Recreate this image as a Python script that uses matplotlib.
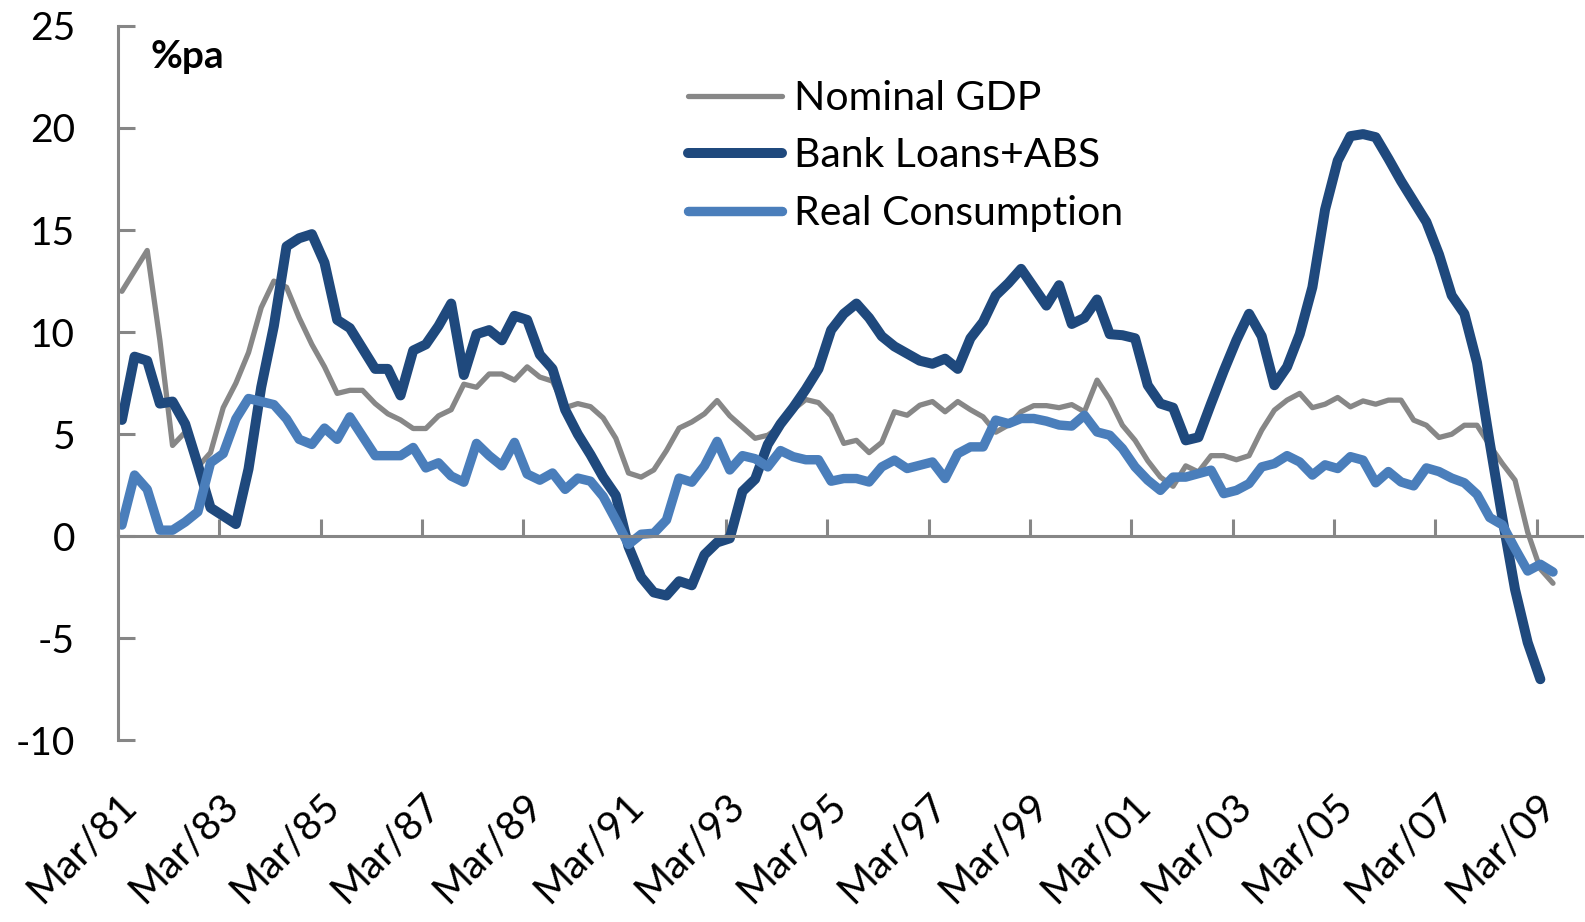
import numpy as np
import matplotlib.pyplot as plt

# Quarterly growth rates, %pa, from Mar/81 onwards
nominal_gdp = [
    12.0, 13.0, 14.0, 9.6, 4.45, 5.1, 3.4, 4.1, 6.3, 7.5,
    9.0, 11.2, 12.5, 12.2, 10.7, 9.4, 8.3, 7.0, 7.15, 7.15,
    6.5, 6.0, 5.7, 5.28, 5.28, 5.9, 6.2, 7.45, 7.3, 7.95,
    7.95, 7.65, 8.3, 7.8, 7.6, 6.3, 6.5, 6.35, 5.8, 4.8,
    3.1, 2.9, 3.25, 4.2, 5.3, 5.6, 6.0, 6.65, 5.9, 5.35,
    4.8, 4.95, 5.4, 6.2, 6.7, 6.55, 5.9, 4.55, 4.7, 4.1,
    4.6, 6.1, 5.93, 6.42, 6.6, 6.1, 6.6, 6.2, 5.85, 5.1,
    5.45, 6.1, 6.4, 6.4, 6.3, 6.45, 6.1, 7.65, 6.7, 5.44,
    4.7, 3.7, 2.9, 2.45, 3.45, 3.15, 3.95, 3.95, 3.75, 3.95,
    5.2, 6.18, 6.67, 7.0, 6.3, 6.47, 6.8, 6.34, 6.63, 6.47,
    6.67, 6.67, 5.69, 5.44, 4.84, 5.0, 5.44, 5.44, 4.46, 3.56,
    2.75, 0.2, -1.6, -2.3,
]

bank_loans_abs = [
    5.7, 8.8, 8.6, 6.5, 6.6, 5.5, 3.5, 1.4, 1.0, 0.6,
    3.3, 7.3, 10.3, 14.2, 14.6, 14.8, 13.4, 10.6, 10.2, 9.2,
    8.2, 8.2, 6.9, 9.1, 9.4, 10.3, 11.4, 7.9, 9.9, 10.1,
    9.6, 10.8, 10.6, 8.9, 8.2, 6.2, 5.0, 4.0, 2.9, 2.0,
    -0.5, -2.0, -2.75, -2.9, -2.2, -2.4, -0.9, -0.3, -0.1, 2.2,
    2.8, 4.5, 5.5, 6.3, 7.2, 8.2, 10.1, 10.9, 11.4, 10.7,
    9.8, 9.3, 8.95, 8.6, 8.45, 8.7, 8.2, 9.7, 10.5, 11.8,
    12.4, 13.1, 12.2, 11.3, 12.3, 10.4, 10.7, 11.6, 9.9, 9.85,
    9.7, 7.4, 6.5, 6.3, 4.7, 4.85, 6.5, 8.1, 9.6, 10.9,
    9.8, 7.4, 8.3, 9.9, 12.2, 16.0, 18.4, 19.6, 19.7, 19.55,
    18.5, 17.4, 16.4, 15.4, 13.8, 11.8, 10.9, 8.5, 4.6, 0.9,
    -2.6, -5.2, -7.0,
]

real_consumption = [
    0.55, 3.0, 2.3, 0.3, 0.3, 0.7, 1.2, 3.6, 4.05, 5.75,
    6.75, 6.6, 6.45, 5.75, 4.75, 4.5, 5.3, 4.75, 5.85, 4.9,
    3.95, 3.95, 3.95, 4.35, 3.35, 3.6, 2.95, 2.65, 4.55, 3.95,
    3.45, 4.6, 3.05, 2.75, 3.1, 2.3, 2.85, 2.7, 1.95, 0.8,
    -0.4, 0.1, 0.15, 0.8, 2.85, 2.65, 3.45, 4.65, 3.25, 3.95,
    3.8, 3.4, 4.2, 3.9, 3.75, 3.75, 2.7, 2.83, 2.83, 2.66,
    3.4, 3.73, 3.32, 3.48, 3.64, 2.83, 4.05, 4.38, 4.38, 5.69,
    5.52, 5.77, 5.77, 5.64, 5.45, 5.4, 5.93, 5.11, 4.95, 4.3,
    3.4, 2.75, 2.25, 2.9, 2.9, 3.07, 3.24, 2.09, 2.25, 2.58,
    3.4, 3.56, 3.95, 3.64, 3.0, 3.5, 3.32, 3.9, 3.73, 2.62,
    3.17, 2.66, 2.47, 3.35, 3.17, 2.85, 2.62, 2.05, 0.92, 0.56,
    -0.6, -1.7, -1.37, -1.75,
]

tick_labels = ['Mar/81', 'Mar/83', 'Mar/85', 'Mar/87', 'Mar/89', 'Mar/91',
               'Mar/93', 'Mar/95', 'Mar/97', 'Mar/99', 'Mar/01', 'Mar/03',
               'Mar/05', 'Mar/07', 'Mar/09']

plt.rcParams['font.family'] = ['Lato', 'DejaVu Sans']
plt.rcParams['font.size'] = 28
plt.rcParams['axes.unicode_minus'] = False

axis_grey = '#868686'

fig = plt.figure(figsize=(15.85, 9.22), dpi=100)
ax = fig.add_axes([0.0745, 0.1969, 0.9237, 0.7750])

line_opts = dict(solid_capstyle='round', solid_joinstyle='round')
ax.plot(np.arange(len(nominal_gdp)), nominal_gdp, color='#878787', lw=3.8,
        label='Nominal GDP', **line_opts)
ax.plot(np.arange(len(bank_loans_abs)), bank_loans_abs, color='#1F497D', lw=7.2,
        label='Bank Loans+ABS', **line_opts)
ax.plot(np.arange(len(real_consumption)), real_consumption, color='#4A7EBB', lw=6.8,
        label='Real Consumption', **line_opts)

ax.set_xlim(-0.3, 115.3)
ax.set_ylim(-10, 25)
ax.set_yticks(np.arange(-10, 26, 5))

# x axis sits on the zero line, labels hang below the plot
ax.spines['bottom'].set_position(('data', 0))
ax.spines['top'].set_visible(False)
ax.spines['right'].set_visible(False)
for side in ('left', 'bottom'):
    ax.spines[side].set_color(axis_grey)
    ax.spines[side].set_linewidth(2.2)

ax.set_xticks(np.arange(0, len(bank_loans_abs), 8) - 0.3)
ax.set_xticklabels(tick_labels, rotation=45, ha='right', rotation_mode='anchor',
                   fontsize=29)
ax.tick_params(axis='x', direction='in', length=12, width=2.2, color=axis_grey, pad=180)
ax.tick_params(axis='y', direction='in', length=12, width=2.2, color=axis_grey, pad=31)

fig.text(150 / 1585, 1 - 68 / 922, '%pa', fontweight='bold', va='baseline')

ax.legend(loc='upper left', bbox_to_anchor=(688 / 1585, 1 - 80 / 922),
          bbox_transform=fig.transFigure, frameon=False, borderpad=0,
          borderaxespad=0, handlelength=2.3, handletextpad=0.28, labelspacing=0.5,
          fontsize=29.5)

fig.savefig('out.png', dpi=100)
